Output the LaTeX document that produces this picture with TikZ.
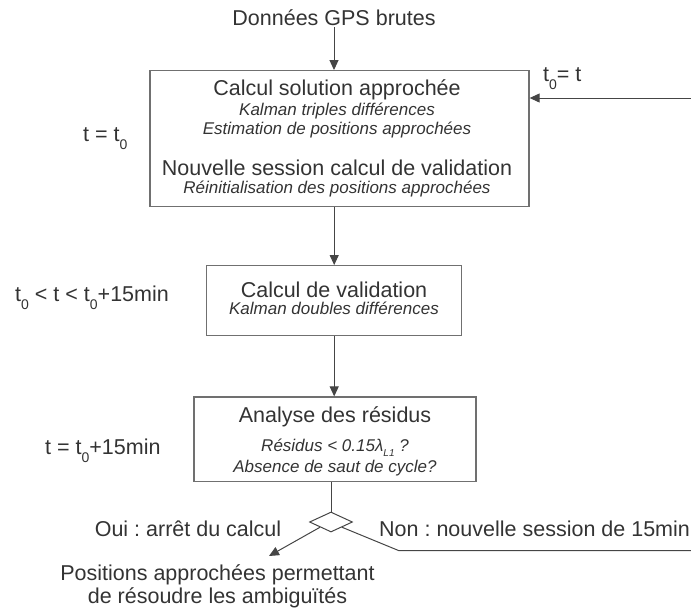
\documentclass[tikz,border=0pt]{standalone}
\usepackage{fontspec}
\setmainfont{Liberation Sans}
\usetikzlibrary{arrows.meta,shapes.geometric}
\definecolor{txt}{HTML}{333333}
\definecolor{edge}{HTML}{707070}
\definecolor{wire}{HTML}{454545}
\newcommand\bigtxt{\fontsize{21.5}{24}\selectfont}
\newcommand\smtxt{\fontsize{17}{20}\selectfont\itshape}
\newcommand\lowz{\raisebox{-8pt}{\fontsize{14}{14}\selectfont 0}}
\frenchspacing
\tikzset{
  box/.style={draw=edge,line width=1.3pt,rectangle,inner sep=0pt},
  lbl/.style={text=txt,inner sep=0pt,anchor=base,font=\bigtxt},
  note/.style={text=txt,inner sep=0pt,anchor=base,font=\smtxt},
  side/.style={text=txt,inner sep=0pt,anchor=base west,font=\bigtxt},
  wirest/.style={draw=wire,line width=1pt},
  arr/.style={wirest,-{Triangle[length=10pt,width=9pt]}},
}
\begin{document}
\begin{tikzpicture}[x=1pt,y=-1pt]
\useasboundingbox (0,0) rectangle (691,608);
% boxes
\node[box,minimum width=379pt,minimum height=136pt] (b1) at (339.5,138.7) {};
\node[box,minimum width=255pt,minimum height=70pt] (b2) at (334.2,300.7) {};
\node[box,minimum width=282pt,minimum height=84.5pt] (b3) at (335,439.3) {};
\node[draw=wire,line width=1pt,diamond,aspect=2.15,inner sep=0pt,minimum width=43pt,minimum height=20pt] (dia) at (331,522) {};
% texts
\node[lbl] (gps) at (334,25) {Données GPS brutes};
\node[lbl] (t1a) at (337,95.7) {Calcul solution approchée};
\node[note] (t1b) at (337,115) {Kalman triples différences};
\node[note] (t1c) at (337,134) {Estimation de positions approchées};
\node[lbl] (t1d) at (337,175) {Nouvelle session calcul de validation};
\node[note] (t1e) at (337,193) {Réinitialisation des positions approchées};
\node[lbl] (t2a) at (334,297) {Calcul de validation};
\node[note] (t2b) at (334,314) {Kalman doubles différences};
\node[lbl] (t3a) at (335,422) {Analyse des résidus};
\node[note] (t3b) at (335,451) {Résidus < 0.15λ\raisebox{-5pt}{\fontsize{10}{10}\selectfont L1} ?};
\node[note] (t3c) at (335,472) {Absence de saut de cycle?};
\node[side] (l1) at (83,141.7) {t = t\lowz};
\node[side] (l2) at (15,301.5) {t\lowz\ < t < t\lowz+15min};
\node[side] (l3) at (45,454) {t = t\lowz+15min};
\node[side] (l4) at (543,81.5) {t\lowz= t};
\node[lbl] (oui) at (188,536.5) {Oui : arrêt du calcul};
\node[side] (non) at (379,536.5) {Non : nouvelle session de 15min};
\node[lbl] (pos1) at (217.5,580) {Positions approchées permettant};
\node[lbl] (pos2) at (217.5,603) {de résoudre les ambiguïtés};
% connectors
\coordinate (yes) at (269,556);
\coordinate (nb) at (399,550.7);
\coordinate (nc) at (696,550.7);
\coordinate (nd) at (696,98);
\draw[arr] ([yshift=-2pt]gps.south) -- (gps.south |- b1.north);
\draw[arr] (b1.south -| b2.north) -- (b2.north);
\draw[arr] (b2.south) -- (b2.south |- b3.north);
\draw[wirest] (dia.north |- b3.south) -- (dia.north);
\draw[arr] (dia.south west) -- (yes);
\begin{scope}
\clip (0,0) rectangle (691,608);
\draw[wirest] (dia.south east) -- (nb) -- (nc) -- (nd);
\draw[arr] (nd) -- (nd -| b1.east);
\end{scope}
\end{tikzpicture}
\end{document}
